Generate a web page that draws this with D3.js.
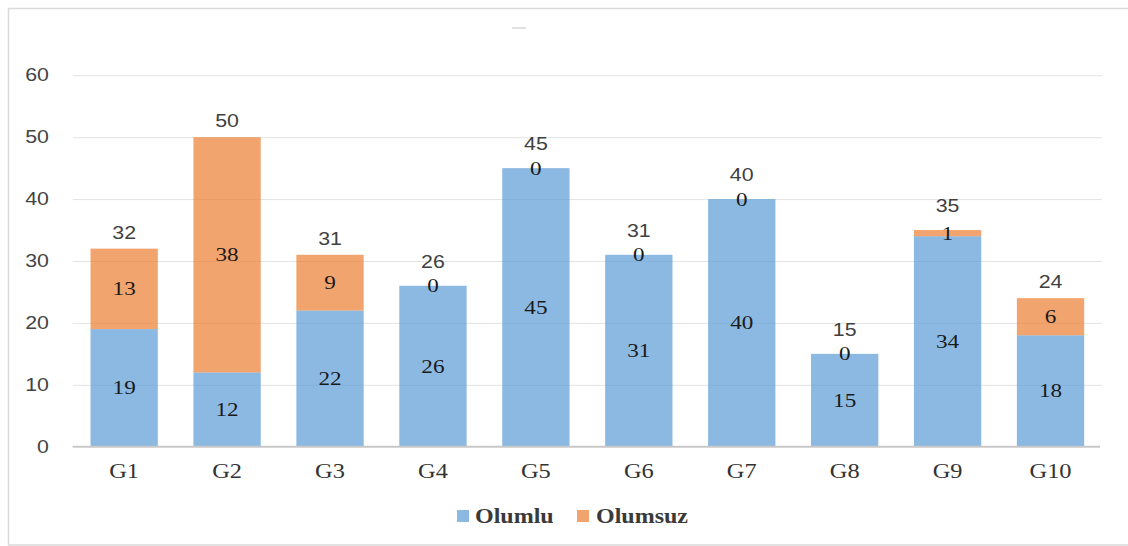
<!DOCTYPE html>
<html><head><meta charset="utf-8">
<script src="https://cdn.jsdelivr.net/npm/d3@7"></script>
<style>html,body{margin:0;padding:0;background:#fff;}svg{display:block;}</style>
</head><body>
<svg id="chart" width="1128" height="546"></svg>
<script>
const categories = ["G1","G2","G3","G4","G5","G6","G7","G8","G9","G10"];
const olumlu  = [19,12,22,26,45,31,40,15,34,18];
const olumsuz = [13,38,9,0,0,0,0,0,1,6];
const seriesNames = ["Olumlu","Olumsuz"];
const yTicks = [0,10,20,30,40,50,60];

const W = 1128, H = 546, SX = 1.22;
const svg = d3.select("#chart");
svg.append("rect").attr("width",W).attr("height",H).attr("fill","#fff");
svg.append("rect").attr("x",8.5).attr("y",8.5).attr("width",W+10).attr("height",536.5)
  .attr("fill","none").attr("stroke","#d9d9d9").attr("stroke-width",1.5);
svg.append("line").attr("x1",512).attr("x2",526).attr("y1",28).attr("y2",28)
  .attr("stroke","#d6d6d6").attr("stroke-width",1.5);

const x = d3.scaleBand().domain(categories).range([72.7,1102]).paddingInner(0.346).paddingOuter(0.173);
const y = d3.scaleLinear().domain([0,60]).range([446.7,75.3]);

function txt(px, py, s, o){
  return svg.append("text")
    .attr("transform",`translate(${px},${py}) scale(${o.sx||SX},1)`)
    .attr("text-anchor",o.anchor||"middle")
    .attr("font-family",o.family)
    .attr("font-size",o.size)
    .attr("font-weight",o.weight||"normal")
    .attr("fill",o.fill||"#222")
    .text(s);
}
const SANS = "'Liberation Sans', Arial, sans-serif";
const SERIF = "'Liberation Serif', 'Times New Roman', serif";

// gridlines
svg.append("g").selectAll("line").data(yTicks.filter(t=>t>0)).join("line")
  .attr("x1",72.7).attr("x2",1102).attr("y1",d=>y(d)+0.5).attr("y2",d=>y(d)+0.5)
  .attr("stroke","#e3e3e3").attr("stroke-width",1);

// stacked data
const rows = categories.map((c,i)=>({cat:c, Olumlu:olumlu[i], Olumsuz:olumsuz[i]}));
const stack = d3.stack().keys(seriesNames)(rows);
const colors = {Olumlu:"#5B9BD5", Olumsuz:"#ED7D31"};

stack.forEach(layer=>{
  svg.append("g").selectAll("rect").data(layer).join("rect")
    .attr("x",d=>x(d.data.cat)).attr("width",x.bandwidth())
    .attr("y",d=>y(d[1])).attr("height",d=>y(d[0])-y(d[1]))
    .attr("fill",colors[layer.key]).attr("fill-opacity",0.7);
});

// baseline
svg.append("line").attr("x1",72.7).attr("x2",1100).attr("y1",y(0)).attr("y2",y(0))
  .attr("stroke","#c8c8c8").attr("stroke-width",2);

// y tick labels
yTicks.forEach(t=>txt(49, y(t)+6, String(t), {anchor:"end", family:SANS, size:17.5, fill:"#444"}));

// x labels
categories.forEach(c=>txt(x(c)+x.bandwidth()/2, 478, c, {family:SERIF, size:20, fill:"#333"}));

// segment labels
stack.forEach(layer=>{
  layer.forEach(d=>{
    const cx = x(d.data.cat)+x.bandwidth()/2;
    const cy = (y(d[0])+y(d[1]))/2;
    txt(cx, cy+6.5, String(d.data[layer.key]), {family:SERIF, size:19, fill:"#1a1a1a"});
  });
});

// totals
rows.forEach((r,i)=>{
  const tot = olumlu[i]+olumsuz[i];
  const topSegPx = y(olumlu[i]) - y(tot);
  const off = topSegPx < 25 ? 18 : 10;
  txt(x(r.cat)+x.bandwidth()/2, y(tot)-off, String(tot), {family:SANS, size:17.5, fill:"#404040"});
});

// legend
const legend = [
  {name:"Olumlu", sx:457, tx:475},
  {name:"Olumsuz", sx:577, tx:596}
];
legend.forEach(l=>{
  svg.append("rect").attr("x",l.sx).attr("y",510).attr("width",12).attr("height",12)
    .attr("fill",colors[l.name]).attr("fill-opacity",0.7);
  txt(l.tx, 523, l.name, {anchor:"start", family:SERIF, size:20, weight:"bold", fill:"#3a3a3a", sx:1.2});
});
</script>
</body></html>
